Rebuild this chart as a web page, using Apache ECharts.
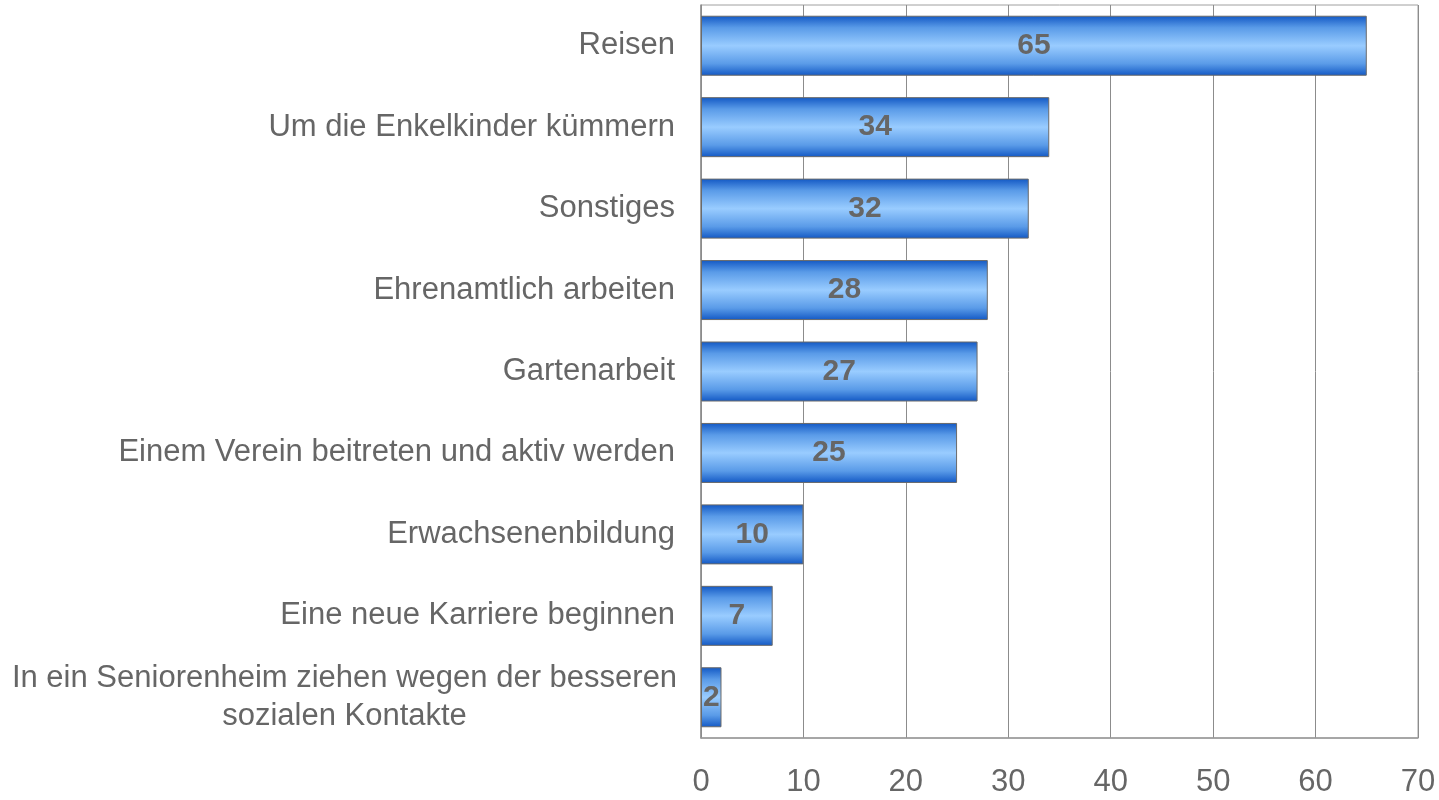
<!DOCTYPE html>
<html>
<head>
<meta charset="utf-8">
<script src="https://cdn.jsdelivr.net/npm/echarts@6/dist/echarts.min.js"></script>
<style>
  html, body { margin: 0; padding: 0; background: #fff; }
  #chart { width: 1439px; height: 800px; }
</style>
</head>
<body>
<div id="chart"></div>
<script>
// Kategorien (von oben nach unten)
var categories = [
    'Reisen',
    'Um die Enkelkinder kümmern',
    'Sonstiges',
    'Ehrenamtlich arbeiten',
    'Gartenarbeit',
    'Einem Verein beitreten und aktiv werden',
    'Erwachsenenbildung',
    'Eine neue Karriere beginnen',
    'In ein Seniorenheim ziehen wegen der besseren\nsozialen Kontakte'
];
// Werte
var values = [65, 34, 32, 28, 27, 25, 10, 7, 2];
// x-Achse
var axisMin = 0;
var axisMax = 70;
var axisStep = 10;

var myChart = echarts.init(document.getElementById('chart'));

// Verlauf der Balken: dunkel oben/unten, hell in der Mitte
var barColor = new echarts.graphic.LinearGradient(0, 0, 0, 1, [
    {offset: 0, color: '#1258c4'},
    {offset: 0.2, color: '#5a9be8'},
    {offset: 0.5, color: '#99ccff'},
    {offset: 0.8, color: '#5a9be8'},
    {offset: 1, color: '#1258c4'}
]);

myChart.setOption({
    animation: false,
    textStyle: {
        fontFamily: '"Liberation Sans", Arial, sans-serif'
    },
    grid: {
        left: 701,
        right: 21,
        top: 5,
        bottom: 62,
        show: true,
        borderColor: '#a0a0a0',
        borderWidth: 1
    },
    xAxis: {
        type: 'value',
        min: axisMin,
        max: axisMax,
        interval: axisStep,
        axisLine: {show: true, lineStyle: {color: '#999', width: 1.5}},
        axisTick: {show: false},
        splitLine: {show: true, lineStyle: {color: '#8c8c8c', width: 1}},
        axisLabel: {
            color: '#666',
            fontSize: 31,
            margin: 29
        }
    },
    yAxis: {
        type: 'category',
        inverse: true,
        data: categories,
        axisLine: {show: true, lineStyle: {color: '#8c8c8c', width: 1.5}},
        axisTick: {show: false},
        axisLabel: {
            color: '#666',
            fontSize: 31,
            margin: 26,
            lineHeight: 38,
            formatter: function (v) {
                if (v.indexOf('\n') < 0) return v;
                return v.split('\n').map(function (s) {
                    return '{c|' + s + '}';
                }).join('\n');
            },
            rich: {
                c: {
                    width: 661,
                    align: 'center',
                    fontSize: 31,
                    color: '#666',
                    lineHeight: 38
                }
            }
        }
    },
    series: [{
        type: 'bar',
        data: values,
        barWidth: 60,
        itemStyle: {
            color: barColor,
            borderColor: '#6a6a6a',
            borderWidth: 1
        },
        label: {
            show: true,
            position: 'inside',
            color: '#666',
            fontSize: 30,
            fontWeight: 'bold'
        }
    }]
});
</script>
</body>
</html>
